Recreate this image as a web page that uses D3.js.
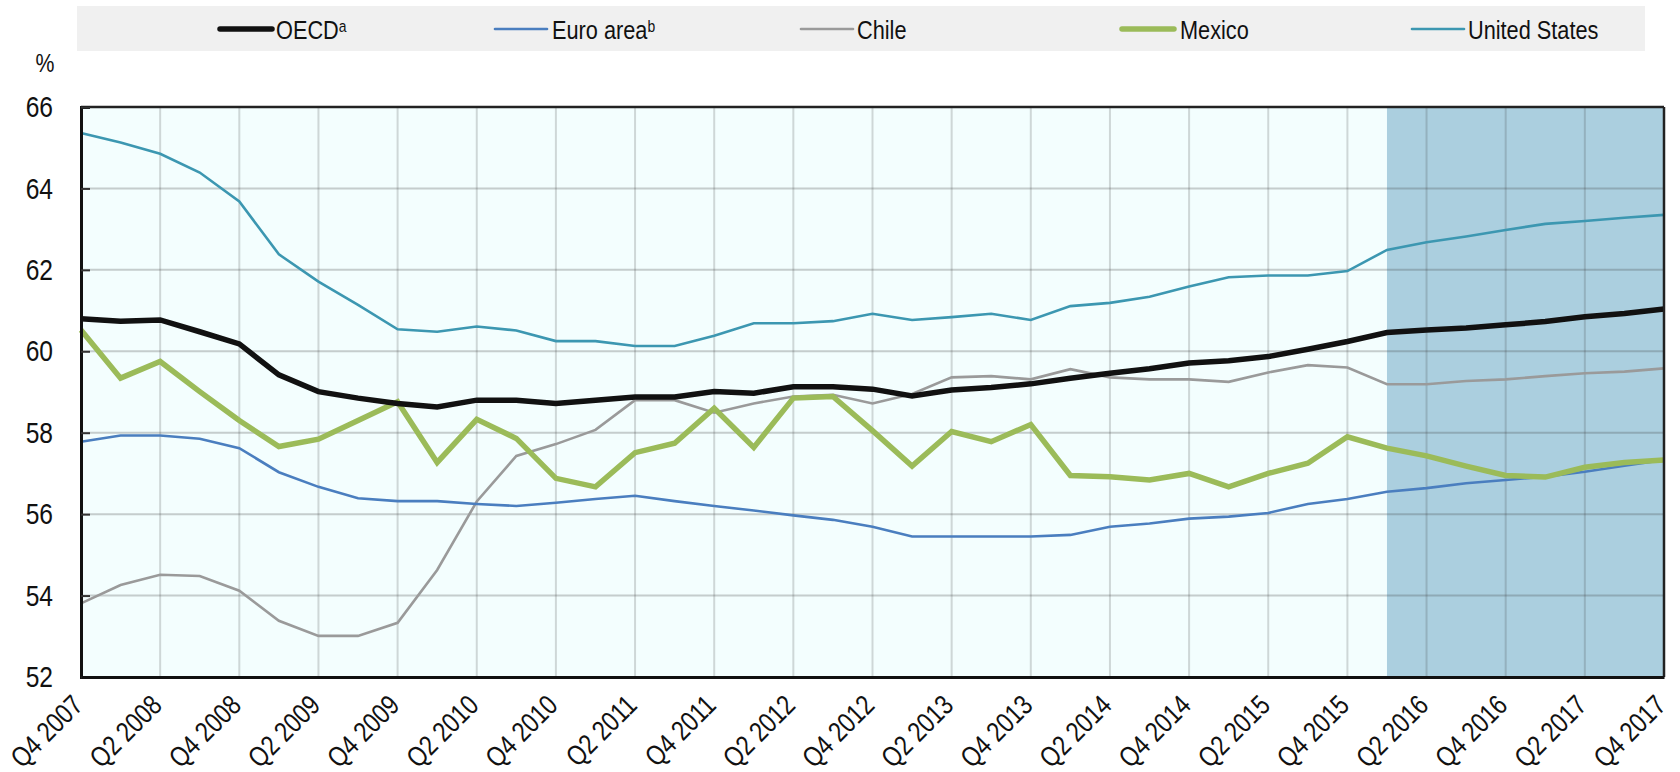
<!DOCTYPE html>
<html>
<head>
<meta charset="utf-8">
<script src="https://cdn.jsdelivr.net/npm/d3@7/dist/d3.min.js"></script>
<style>
  html, body { margin: 0; padding: 0; background: #fff; }
  svg { display: block; font-family: "Liberation Sans", Arial, sans-serif; }
</style>
</head>
<body>
<svg id="chart" width="1680" height="772"></svg>
<script>
// quarters, Q4 2007 .. Q4 2017
const quarters = [
  'Q4 2007','Q1 2008','Q2 2008','Q3 2008','Q4 2008','Q1 2009','Q2 2009','Q3 2009','Q4 2009',
  'Q1 2010','Q2 2010','Q3 2010','Q4 2010','Q1 2011','Q2 2011','Q3 2011','Q4 2011',
  'Q1 2012','Q2 2012','Q3 2012','Q4 2012','Q1 2013','Q2 2013','Q3 2013','Q4 2013',
  'Q1 2014','Q2 2014','Q3 2014','Q4 2014','Q1 2015','Q2 2015','Q3 2015','Q4 2015',
  'Q1 2016','Q2 2016','Q3 2016','Q4 2016','Q1 2017','Q2 2017','Q3 2017','Q4 2017'
];
const projectionStart = 'Q1 2016';

const oecd = [60.80,60.74,60.77,60.48,60.18,59.42,59.01,58.85,58.72,58.63,58.80,58.80,58.72,58.80,58.88,58.88,59.01,58.97,59.13,59.13,
  59.07,58.90,59.05,59.11,59.20,59.34,59.46,59.57,59.71,59.77,59.87,60.05,60.24,60.46,60.52,60.57,60.65,60.73,60.85,60.93,61.04];
const euro = [57.78,57.93,57.93,57.85,57.62,57.03,56.67,56.39,56.32,56.32,56.25,56.20,56.28,56.37,56.45,56.32,56.20,56.09,55.97,55.86,
  55.69,55.45,55.45,55.45,55.45,55.49,55.69,55.77,55.89,55.94,56.03,56.25,56.37,56.55,56.64,56.76,56.84,56.92,57.04,57.19,57.33];
const chile = [53.81,54.26,54.51,54.48,54.12,53.38,53.01,53.01,53.33,54.63,56.31,57.43,57.72,58.07,58.80,58.80,58.49,58.72,58.89,58.93,
  58.72,58.95,59.36,59.39,59.31,59.56,59.36,59.31,59.31,59.25,59.48,59.66,59.60,59.19,59.19,59.27,59.31,59.39,59.46,59.50,59.58];
const mexico = [60.52,59.34,59.75,59.01,58.30,57.66,57.84,58.30,58.76,57.27,58.33,57.86,56.88,56.67,57.51,57.74,58.60,57.64,58.85,58.89,
  58.05,57.18,58.03,57.78,58.20,56.95,56.92,56.84,57.00,56.67,57.00,57.25,57.90,57.62,57.43,57.18,56.95,56.91,57.15,57.27,57.33];
const us = [65.36,65.13,64.85,64.39,63.68,62.38,61.71,61.14,60.54,60.48,60.61,60.51,60.25,60.25,60.13,60.13,60.38,60.69,60.69,60.74,
  60.92,60.77,60.84,60.92,60.77,61.11,61.19,61.34,61.59,61.82,61.86,61.86,61.97,62.49,62.68,62.82,62.98,63.13,63.20,63.28,63.35];

const yTicks = [52,54,56,58,60,62,64,66];

const series = [
  {name: 'OECD', sup: 'a', values: oecd, color: '#111111', width: 5.5, lx: 220, tx: 276},
  {name: 'Euro area', sup: 'b', values: euro, color: '#4a7ebf', width: 2.6, lx: 495, tx: 552},
  {name: 'Chile', sup: '', values: chile, color: '#9a9a9a', width: 2.6, lx: 801, tx: 857},
  {name: 'Mexico', sup: '', values: mexico, color: '#9bbb59', width: 5.5, lx: 1122, tx: 1180},
  {name: 'United States', sup: '', values: us, color: '#3c97b1', width: 2.6, lx: 1412, tx: 1468}
];
// draw order: thin lines first, then Mexico, then OECD on top
const drawOrder = ['Chile', 'Euro area', 'United States', 'Mexico', 'OECD'];

const narrow = 'scale(0.82,1)'; // fake a narrow face from Liberation Sans

const svg = d3.select('#chart');
const plotL = 81, plotR = 1664, plotT = 107, plotB = 677;

const x = d3.scaleLinear().domain([0, quarters.length - 1]).range([plotL, plotR]);
const y = d3.scaleLinear().domain([52, 66]).range([plotB, plotT]);

// legend
svg.append('rect')
  .attr('x', 77).attr('y', 6).attr('width', 1568).attr('height', 45)
  .attr('fill', '#f0f0f0');

const leg = svg.append('g').selectAll('g').data(series).join('g');
leg.append('line')
  .attr('x1', d => d.lx).attr('x2', d => d.lx + 52)
  .attr('y1', 29).attr('y2', 29)
  .attr('stroke', d => d.color)
  .attr('stroke-width', d => d.width)
  .attr('stroke-linecap', 'round');
const lt = leg.append('text')
  .attr('transform', d => `translate(${d.tx},39) ${narrow}`)
  .attr('font-size', 26.5).attr('fill', '#111');
lt.append('tspan').text(d => d.name);
lt.append('tspan')
  .attr('font-size', 17).attr('dy', -7)
  .text(d => d.sup);

// plot background + projection shade
svg.append('rect')
  .attr('x', plotL).attr('y', plotT).attr('width', plotR - plotL).attr('height', plotB - plotT)
  .attr('fill', '#f3fefe');
const shadeX = x(quarters.indexOf(projectionStart));
svg.append('rect')
  .attr('x', shadeX).attr('y', plotT).attr('width', plotR - shadeX).attr('height', plotB - plotT)
  .attr('fill', '#abcfdf');

// grid
const vGrid = d3.range(2, quarters.length - 1, 2);
svg.append('g').selectAll('line').data(vGrid).join('line')
  .attr('x1', d => x(d)).attr('x2', d => x(d))
  .attr('y1', plotT).attr('y2', plotB)
  .attr('stroke', 'rgba(60,60,60,0.2)').attr('stroke-width', 2);
svg.append('g').selectAll('line').data(yTicks.slice(1, -1)).join('line')
  .attr('x1', plotL).attr('x2', plotR)
  .attr('y1', d => y(d)).attr('y2', d => y(d))
  .attr('stroke', 'rgba(60,60,60,0.25)').attr('stroke-width', 2);

// lines
const line = d3.line().x((d, i) => x(i)).y(d => y(d));
drawOrder.forEach(n => {
  const s = series.find(d => d.name === n);
  svg.append('path')
    .datum(s.values)
    .attr('d', line)
    .attr('fill', 'none')
    .attr('stroke', s.color)
    .attr('stroke-width', s.width)
    .attr('stroke-linejoin', 'miter');
});

// frame
svg.append('line').attr('x1', plotL).attr('x2', plotR).attr('y1', plotT).attr('y2', plotT)
  .attr('stroke', '#222').attr('stroke-width', 2.5);
svg.append('line').attr('x1', plotR).attr('x2', plotR).attr('y1', plotT).attr('y2', plotB)
  .attr('stroke', '#222').attr('stroke-width', 2.5);

// y axis
const yAxis = svg.append('g')
  .attr('transform', `translate(${plotL},0)`)
  .call(d3.axisLeft(y).tickValues(yTicks).tickSize(-9).tickFormat(d3.format('d')));
yAxis.select('.domain').attr('stroke', '#111').attr('stroke-width', 3);
yAxis.selectAll('.tick line').attr('stroke', '#333').attr('stroke-width', 2);
yAxis.selectAll('text')
  .attr('x', 0)
  .attr('transform', `translate(-28,0) ${narrow}`)
  .attr('font-size', 30).attr('fill', '#111').attr('font-family', null);

svg.append('text')
  .attr('transform', `translate(45,72) ${narrow}`)
  .attr('text-anchor', 'middle')
  .attr('font-size', 26).attr('fill', '#111')
  .text('%');

// x axis
const xAxis = svg.append('g')
  .attr('transform', `translate(0,${plotB})`)
  .call(d3.axisBottom(x).tickValues(d3.range(0, quarters.length, 2)).tickSize(0).tickFormat(i => quarters[i]));
xAxis.select('.domain').attr('stroke', '#111').attr('stroke-width', 3);
xAxis.selectAll('text')
  .attr('font-size', 28).attr('fill', '#111').attr('font-family', null)
  .attr('text-anchor', 'end')
  .attr('y', 0).attr('dy', '0.35em')
  .attr('transform', `translate(-4,23) rotate(-45) ${narrow}`);
</script>
</body>
</html>
